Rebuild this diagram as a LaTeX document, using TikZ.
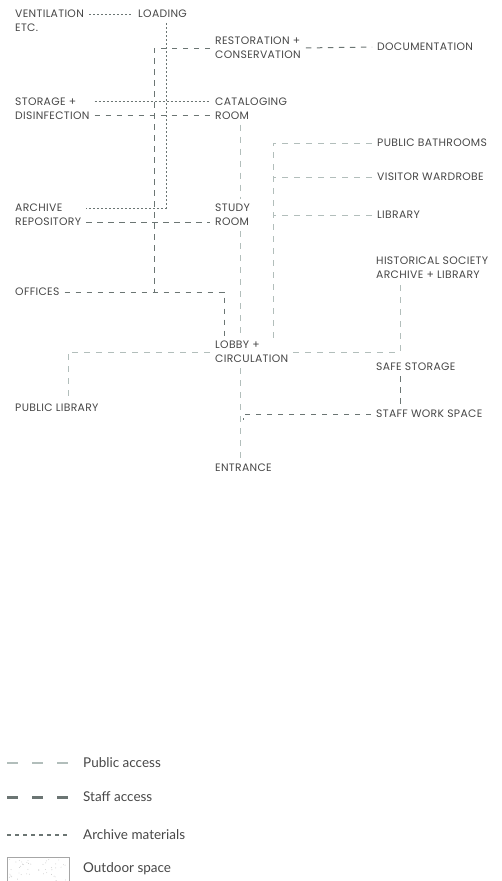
\documentclass[tikz,border=0pt]{standalone}
\usepackage{fontspec}
\setmainfont{Poppins}[LetterSpace=3]
\newfontfamily\legendfont{Lato}
\usetikzlibrary{positioning}
\definecolor{txtgray}{HTML}{474747}
\definecolor{staffgray}{HTML}{6B7573}
\definecolor{publicgray}{HTML}{B2BEBB}

\begin{document}
\begin{tikzpicture}[x=1pt,y=-1pt,
	room/.style={anchor=west,inner sep=0pt,align=left,text=txtgray,font=\fontsize{10.8}{14}\selectfont},
	staffline/.style={staffgray,line width=1pt,dash pattern=on 5.5pt off 5.5pt},
	publicline/.style={publicgray,line width=1pt,dash pattern=on 6pt off 6pt},
	archiveline/.style={staffgray,line width=1pt,dash pattern=on 2pt off 2pt},
	gap/.style={shorten <=5pt,shorten >=5pt},
	keytext/.style={anchor=west,inner sep=0pt,text=txtgray,font=\legendfont\fontsize{13.5}{15}\selectfont}]
	\useasboundingbox (0,0) rectangle (502,881);
	
	\foreach \n/\x/\y/\t in
		{vent/15/21/{VENTILATION\\ETC.}, load/138/14/{LOADING},
		rest/215/48/{RESTORATION +\\CONSERVATION}, doc/377/47/{DOCUMENTATION},
		stor/15/108.5/{STORAGE +\\DISINFECTION}, cat/215/108.5/{CATALOGING\\ROOM},
		bath/377/143/{PUBLIC BATHROOMS}, ward/377/177/{VISITOR WARDROBE},
		lib/377/215/{LIBRARY}, arch/15/215/{ARCHIVE\\REPOSITORY},
		study/215/215/{STUDY\\ROOM}, hist/376/268/{HISTORICAL SOCIETY\\ARCHIVE + LIBRARY},
		off/15/292/{OFFICES}, lobby/215/352/{LOBBY +\\CIRCULATION},
		safe/376/367/{SAFE STORAGE}, publib/15/408/{PUBLIC LIBRARY},
		staffw/376/414/{STAFF WORK SPACE}, entr/215/468/{ENTRANCE}}
		\node[room] (\n) at (\x,\y) {\t};
	
	\coordinate (offj) at (154,292);
	\coordinate (busend) at (273,338);
	\coordinate (swend) at (243,420);
	
	\draw[archiveline,gap] (vent.east |- load.west) -- (load.west);
	\draw[archiveline,gap] ([xshift=28pt]load.south west) |- ([yshift=7pt]arch.east);
	\draw[archiveline,gap] ([yshift=7pt]stor.east) -- ([yshift=7pt]cat.west);
	
	\draw[staffline,gap] (rest.east) -- (doc.west);
	\draw[staffline,shorten <=5pt] (rest.west) -| (offj);
	\draw[staffline,gap] ([yshift=-7pt]stor.east) -- ([yshift=-7pt]cat.west);
	\draw[staffline,gap] ([yshift=-7pt]arch.east) -- ([yshift=-7pt]study.west);
	\draw[staffline,gap] (off.east) -| ([xshift=9pt]lobby.north west);
	\draw[staffline,gap] ([xshift=24pt]safe.south west) -- ([xshift=24pt]staffw.north west);
	\draw[staffline,shorten <=5pt] (staffw.west) -| (swend);
	
	\draw[publicline,gap] ([xshift=25pt]cat.south west) -- ([xshift=25pt]study.north west);
	\draw[publicline,gap] ([xshift=25pt]study.south west) -- ([xshift=25pt]lobby.north west);
	\draw[publicline,gap] ([xshift=25pt]lobby.south west) -- ([xshift=25pt]entr.north west);
	\draw[publicline,shorten <=5pt] (bath.west) -| (busend);
	\draw[publicline,shorten <=5pt] (ward.west) -- (ward.west -| busend);
	\draw[publicline,shorten <=5pt] (lib.west) -- (lib.west -| busend);
	\draw[publicline,gap] (lobby.west) -| ([xshift=53pt]publib.north west);
	\draw[publicline,gap] (lobby.east) -| ([xshift=24pt]hist.south west);
	
	\node[keytext] (kpub) at (83,763) {Public access};
	\node[keytext] (kstaff) at (83,797) {Staff access};
	\node[keytext] (karch) at (83,835) {Archive materials};
	\node[keytext] (kout) at (83,869) {Outdoor space};
	\draw[publicgray,line width=2pt,dash pattern=on 11pt off 14pt] (7,763) -- (70,763);
	\draw[staffgray,line width=3pt,dash pattern=on 11pt off 14pt] (7,797) -- (70,797);
	\draw[staffgray,line width=2.5pt,dash pattern=on 4pt off 4pt] (7,835) -- (70,835);
	\draw[gray!70,line width=0.8pt] (7,882) |- (69,857) -- (69,882);
	\pgfmathsetseed{11}
	\foreach \i in {1,...,45}
		\fill[gray!45] ({9+58*rnd},{859+22*rnd}) circle (0.45pt);
\end{tikzpicture}
\end{document}
